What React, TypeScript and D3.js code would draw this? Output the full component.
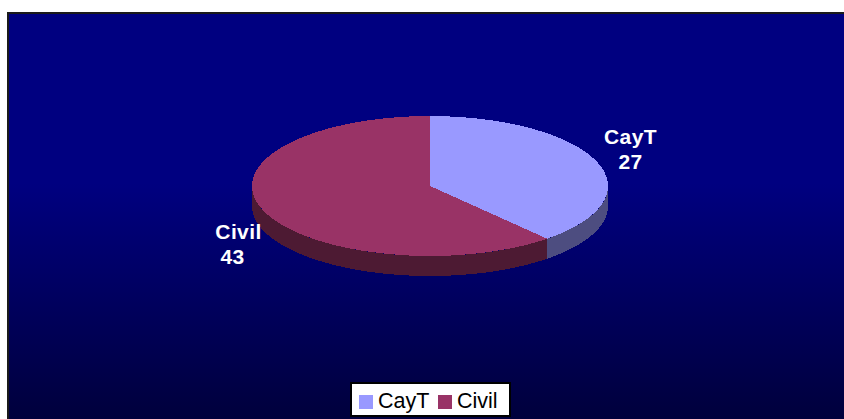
import React from "react";
import * as d3 from "d3";

const categories = ["CayT", "Civil"];
const values = [27, 43];
const topColors = ["#9999ff", "#993366"];
const sideColors = ["#4d4d80", "#4d1a33"];

const W = 844, H = 419;
const cx = 430, cy = 186, rx = 178, ry = 70, depth = 20;
const FONT = "'Liberation Sans', Arial, sans-serif";

const pieGen = d3.pie<number>().sort(null).value((d) => d);
const arcs = pieGen(values);
const yScale = d3.scaleLinear().domain([-1, 1]).range([cy - ry, cy + ry]);
const xScale = d3.scaleLinear().domain([-1, 1]).range([cx - rx, cx + rx]);
const arcGen = d3.arc<d3.PieArcDatum<number>>().innerRadius(0).outerRadius(1);

function sidePath(a0: number, a1: number) {
  const start = Math.max(a0, Math.PI / 2);
  const end = Math.min(a1, (3 * Math.PI) / 2);
  if (end <= start) return "";
  const n = 80;
  const angles = d3.range(n + 1).map((i) => start + ((end - start) * i) / n);
  const pt = (a: number): [number, number] => [xScale(Math.sin(a)), yScale(-Math.cos(a))];
  const top = angles.map(pt);
  const bottom = angles.slice().reverse().map((a) => {
    const p = pt(a);
    return [p[0], p[1] + depth] as [number, number];
  });
  return (d3.line()([...top, ...bottom]) ?? "") + "Z";
}

const labels = [
  { i: 0, x: 630.5, y1: 144, y2: 169 },
  { i: 1, x: 238.5, y1: 239, y2: 264 },
];
const labelOffsets = [0, -6];

const legendItems = [
  { i: 0, sw: 359, tx: 378 },
  { i: 1, sw: 438, tx: 457 },
];

export default function App() {
  return (
    <svg
      width={W}
      height={H}
      viewBox={`0 0 ${W} ${H}`}
      style={{ position: "fixed", left: 0, top: 0, display: "block", background: "#fff" }}
    >
      <defs>
        <linearGradient id="bg" gradientUnits="userSpaceOnUse" x1="0" y1="13" x2="0" y2="419">
          <stop offset="0" stopColor="#000080" />
          <stop offset="0.42" stopColor="#000080" />
          <stop offset="1" stopColor="#00003c" />
        </linearGradient>
      </defs>
      <rect x={8} y={13} width={W} height={H} fill="url(#bg)" stroke="#1a1a1a" strokeWidth={2} />
      {arcs.map((a, i) => (
        <path key={i} d={sidePath(a.startAngle, a.endAngle)} fill={sideColors[i]} shapeRendering="crispEdges" />
      ))}
      <g transform={`translate(${cx},${cy}) scale(${rx},${ry})`} shapeRendering="crispEdges">
        {arcs.map((a, i) => (
          <path key={i} d={arcGen(a) ?? ""} fill={topColors[i]} />
        ))}
      </g>
      {labels.map((l) => (
        <g key={l.i} fontFamily={FONT} fontWeight="bold" fontSize={21} letterSpacing={0.4} fill="#fff" textAnchor="middle">
          <text x={l.x} y={l.y1}>{categories[l.i]}</text>
          <text x={l.x + labelOffsets[l.i]} y={l.y2}>{values[l.i]}</text>
        </g>
      ))}
      <rect x={351} y={383} width={159} height={33} fill="#fff" stroke="#000" strokeWidth={2} />
      {legendItems.map((l) => (
        <g key={l.i}>
          <rect x={l.sw} y={395} width={14} height={14} fill={topColors[l.i]} />
          <text x={l.tx} y={408} fontFamily={FONT} fontSize={21.5} fill="#000">{categories[l.i]}</text>
        </g>
      ))}
    </svg>
  );
}
